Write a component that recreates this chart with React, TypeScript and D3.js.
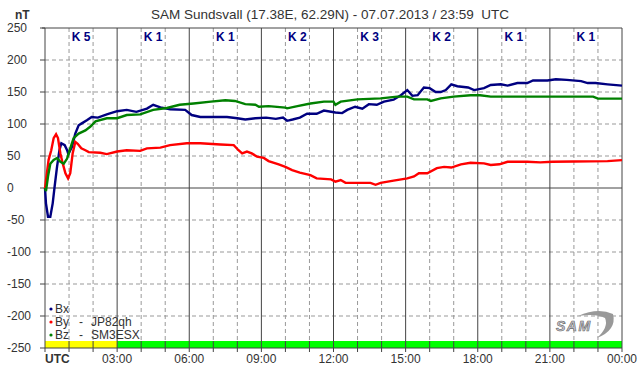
import React from 'react';
import * as d3 from 'd3';

const title = 'SAM Sundsvall (17.38E, 62.29N) - 07.07.2013 / 23:59  UTC';
const unitLabel = 'nT';
const kLabels = ['K 5', 'K 1', 'K 1', 'K 2', 'K 3', 'K 2', 'K 1', 'K 1'];
const statusLevels = ['yellow', 'green', 'green', 'green', 'green', 'green', 'green', 'green'];
const xTickLabels = ['UTC', '03:00', '06:00', '09:00', '12:00', '15:00', '18:00', '21:00', '00:00'];
const yTicks = [250, 200, 150, 100, 50, 0, -50, -100, -150, -200, -250];

const bxT = [0, 0.04, 0.125, 0.22, 0.32, 0.4, 0.5, 0.6, 0.68, 0.82, 0.92, 0.97, 1.12, 1.26, 1.4, 1.53, 1.74, 1.94, 2.2, 2.57, 3.0, 3.4, 3.8, 4.24, 4.5, 4.8, 5.2, 5.83, 6.1, 6.46, 7.0, 7.57, 8.0, 8.33, 8.75, 9.2, 9.6, 9.9, 10.07, 10.3, 10.6, 10.9, 11.3, 11.6, 12.08, 12.36, 12.57, 12.9, 13.2, 13.47, 13.8, 14.1, 14.5, 14.8, 15.07, 15.28, 15.5, 15.76, 16.0, 16.25, 16.46, 16.67, 16.9, 17.15, 17.6, 17.85, 18.26, 18.54, 18.96, 19.24, 19.65, 20.06, 20.3, 20.9, 21.25, 21.7, 22.3, 22.57, 22.9, 23.4, 24];
const bxV = [0, -24, -45, -45, -24, 2, 33, 59, 70, 67, 59, 53, 64, 85, 98, 101, 106, 111, 110, 115, 120, 122, 119, 124, 130, 126, 123, 122, 114, 111, 111, 111, 109, 107, 109, 110, 108, 110, 105, 107, 110, 116, 116, 121, 118, 117, 122, 127, 124, 131, 130, 135, 138, 145, 153, 144, 145, 157, 156, 150, 150, 153, 162, 159, 157, 153, 156, 161, 162, 160, 164, 164, 168, 168, 170, 169, 167, 164, 164, 162, 160];

const byT = [0, 0.04, 0.15, 0.26, 0.36, 0.46, 0.54, 0.64, 0.74, 0.85, 0.96, 1.05, 1.15, 1.26, 1.36, 1.51, 1.68, 1.82, 2.3, 2.57, 3.0, 3.4, 3.96, 4.24, 4.8, 5.2, 5.9, 6.46, 7.3, 7.85, 8.05, 8.2, 8.4, 8.6, 8.82, 9.1, 9.3, 9.72, 10.0, 10.28, 10.6, 11.04, 11.3, 11.9, 12.08, 12.3, 12.5, 13.54, 13.75, 13.96, 14.5, 15.07, 15.35, 15.55, 15.9, 16.3, 16.6, 16.9, 17.3, 17.7, 18.26, 18.54, 18.9, 19.24, 20.06, 20.6, 21.1, 22, 23.4, 24];
const byV = [-1, 12, 44, 59, 78, 84, 78, 54, 38, 23, 15, 23, 54, 72, 69, 62, 59, 56, 55, 53, 57, 59, 58, 62, 63, 67, 70, 70, 68, 67, 59, 54, 57, 54, 49, 47, 42, 37, 33, 28, 24, 20, 15, 13.5, 10, 12.5, 8, 8, 5, 8, 11.5, 15, 18, 23, 23, 31, 33, 32, 37, 39.5, 38.5, 36, 37, 41, 41, 40, 41, 41.5, 42, 43.5];

const bzT = [0, 0.04, 0.125, 0.22, 0.36, 0.5, 0.64, 0.78, 0.92, 1.05, 1.19, 1.4, 1.68, 1.89, 2.1, 2.57, 3.0, 3.4, 3.96, 4.5, 5.07, 5.6, 6.18, 6.9, 7.5, 7.9, 8.33, 8.75, 8.9, 9.3, 10.0, 10.07, 10.5, 11.04, 11.6, 12.0, 12.08, 12.3, 13.0, 13.96, 14.65, 15.07, 15.35, 15.9, 16.05, 16.46, 17.0, 17.7, 18.1, 18.54, 20.6, 22.8, 23.0, 24];
const bzV = [0, -5, 18, 38, 44, 47, 41, 38, 46, 62, 78, 85, 90, 96, 104, 109, 109, 114, 115, 122, 125, 130, 132, 135, 137, 136, 131, 130, 127, 128, 125.5, 124.5, 128, 132, 135, 135, 130, 135, 138.5, 140, 142.7, 142.7, 138.5, 138.5, 136, 140, 142.7, 145, 145, 142.7, 142.7, 142.7, 139.6, 139.6];

const seriesNames = ['Bx', 'By', 'Bz'];
const seriesStations = ['', 'JP82qh', 'SM3ESX'];

const FONT = 'Liberation Sans, Arial, sans-serif';

export default function App() {
  const W = 642, H = 376;
  const x = d3.scaleLinear().domain([0, 24]).range([45, 622]);
  const y = d3.scaleLinear().domain([-250, 250]).range([348, 28]);
  const hours = d3.range(0, 25);
  const colors = ['#000080', '#ff0000', '#008000'];
  const statusColor: Record<string, string> = { yellow: '#ffff00', green: '#00ff00' };
  const series = [
    bxT.map((t, i) => [t, bxV[i]] as [number, number]),
    byT.map((t, i) => [t, byV[i]] as [number, number]),
    bzT.map((t, i) => [t, bzV[i]] as [number, number]),
  ];
  const line = d3.line<[number, number]>().x(d => x(d[0])).y(d => y(d[1])).curve(d3.curveLinear);
  const drawOrder = [0, 1, 2];

  return (
    <svg width={W} height={H} style={{ position: 'absolute', left: 0, top: 0, background: '#fff' }} fontFamily={FONT}>
      <rect x={0} y={0} width={W} height={H} fill="#fff" />
      {/* dashed grid */}
      {hours.filter(h => h % 3 !== 0).map(h => (
        <line key={'vg' + h} x1={x(h)} x2={x(h)} y1={y(250)} y2={y(-250)} stroke="#999" strokeDasharray="4,3" />
      ))}
      {yTicks.filter(v => v !== 0 && Math.abs(v) !== 250).map(v => (
        <line key={'hg' + v} x1={x(0)} x2={x(24)} y1={y(v)} y2={y(v)} stroke="#999" strokeDasharray="4,3" />
      ))}
      {/* status bar */}
      {statusLevels.map((s, i) => (
        <rect key={'st' + i} x={x(i * 3)} y={341} width={x(i * 3 + 3) - x(i * 3)} height={y(-250) - 341} fill={statusColor[s]} />
      ))}
      {/* solid verticals */}
      {hours.filter(h => h % 3 === 0).map(h => (
        <line key={'vs' + h} x1={x(h)} x2={x(h)} y1={y(250)} y2={y(-250) + 4} stroke="#444" />
      ))}
      {hours.filter(h => h % 3 !== 0).map(h => (
        <line key={'vt' + h} x1={x(h)} x2={x(h)} y1={341} y2={y(-250) + 4} stroke="#444" />
      ))}
      <line x1={x(0)} x2={x(24)} y1={y(0)} y2={y(0)} stroke="#444" />
      <line x1={42} x2={x(24)} y1={y(250)} y2={y(250)} stroke="#444" />
      <line x1={x(0)} x2={x(24)} y1={y(-250)} y2={y(-250)} stroke="#444" />
      {yTicks.map(v => (
        <line key={'yt' + v} x1={40} x2={x(0)} y1={y(v)} y2={y(v)} stroke="#444" />
      ))}
      {/* K labels */}
      {kLabels.map((k, i) => (
        <text key={'k' + i} x={x(i * 3 + 1.5)} y={40.5} textAnchor="middle" fontSize={12} fontWeight="bold" fill="#000080">{k}</text>
      ))}
      {/* series */}
      {drawOrder.map(i => (
        <path key={'s' + i} d={line(series[i]) || ''} fill="none" stroke={colors[i]} strokeWidth={2.4} strokeLinejoin="miter" />
      ))}
      {/* y labels */}
      {yTicks.map(v => (
        <text key={'yl' + v} x={7} y={y(v)} dy="0.35em" fontSize={12} fill="#333">{v}</text>
      ))}
      {/* x labels */}
      {xTickLabels.map((l, i) => (
        i === 0
          ? <text key={'xl' + i} x={x(0)} y={363} fontSize={12} fontWeight="bold" fill="#333">{l}</text>
          : <text key={'xl' + i} x={x(i * 3)} y={363} fontSize={12} textAnchor="middle" fill="#333">{l}</text>
      ))}
      {/* title */}
      <text x={330} y={19} textAnchor="middle" fontSize={13.5} fill="#333" style={{ whiteSpace: 'pre' }}>{title}</text>
      <text x={15} y={19} fontSize={12} fontWeight="bold" fill="#333">{unitLabel}</text>
      {/* legend */}
      {seriesNames.map((n, i) => (
        <g key={'lg' + i} transform={`translate(0, ${309 + i * 13})`}>
          <circle cx={51} cy={0} r={1.6} fill={colors[i]} />
          <text x={55} y={0} dy="0.35em" fontSize={12} fill="#333">{n}</text>
          {seriesStations[i] && <text x={79} y={0} dy="0.35em" fontSize={12} fill="#333">-</text>}
          {seriesStations[i] && <text x={91} y={0} dy="0.35em" fontSize={12} fill="#333">{seriesStations[i]}</text>}
        </g>
      ))}
      {/* logo */}
      <g>
        <path d="M 578 316 Q 598 307 613 314 Q 617 330 597 338 Q 609 327 605 318 Q 596 313 578 316 Z" fill="#999" />
        <text x={556} y={331} fontSize={14} fontStyle="italic" fontWeight="bold" fill="#c8c8d0" stroke="#666" strokeWidth={0.6} letterSpacing={1.5}>SAM</text>
      </g>
    </svg>
  );
}
